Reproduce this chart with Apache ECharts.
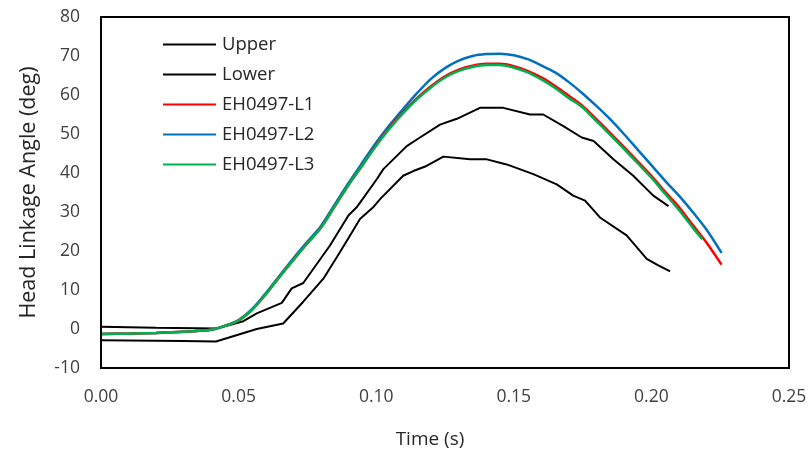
<!DOCTYPE html>
<html>
<head>
<meta charset="utf-8">
<script src="https://cdn.jsdelivr.net/npm/echarts@6/dist/echarts.min.js"></script>
<style>html,body{margin:0;padding:0;background:#fff}#c{width:811px;height:455px}</style>
</head>
<body>
<div id="c"></div>
<script>
// ---- data ----
const seriesNames = ["Upper", "Lower", "EH0497-L1", "EH0497-L2", "EH0497-L3"];
const xTicks = [0, 0.05, 0.10, 0.15, 0.20, 0.25];
const yTicks = [-10, 0, 10, 20, 30, 40, 50, 60, 70, 80];

const upperT = [0, 0.02, 0.042, 0.0517, 0.0566, 0.0657, 0.0693, 0.0735, 0.0832, 0.0899, 0.0929, 0.1002, 0.1026, 0.1111, 0.1159, 0.1232, 0.1293, 0.1377, 0.1462, 0.1559, 0.1607, 0.168, 0.1747, 0.179, 0.1862, 0.1934, 0.2007, 0.2062];
const upperY = [0.6, 0.3, 0.1, 2.0, 4.0, 6.7, 10.4, 11.8, 21.4, 29.1, 31.2, 38.4, 41.0, 46.9, 49.1, 52.4, 53.9, 56.7, 56.7, 55.0, 55.0, 52.0, 49.1, 48.2, 43.5, 39.3, 34.2, 31.5];

const lowerT = [0, 0.03, 0.0418, 0.0566, 0.0662, 0.0735, 0.0808, 0.0868, 0.0905, 0.0941, 0.0989, 0.1014, 0.1098, 0.1135, 0.1183, 0.1244, 0.1341, 0.1402, 0.1474, 0.1571, 0.1656, 0.1716, 0.1759, 0.1813, 0.191, 0.1983, 0.2025, 0.2068];
const lowerY = [-2.9, -3.1, -3.2, 0.0, 1.4, 7.0, 12.9, 19.7, 24.0, 28.2, 31.2, 33.3, 39.3, 40.5, 41.8, 44.2, 43.5, 43.5, 42.2, 39.7, 37.1, 34.2, 32.9, 28.6, 24.0, 18.0, 16.3, 14.8];

const l1T = [0, 0.01, 0.02, 0.03, 0.04, 0.045, 0.05, 0.055, 0.06, 0.065, 0.07, 0.075, 0.08, 0.085, 0.09, 0.095, 0.10, 0.105, 0.11, 0.115, 0.12, 0.125, 0.13, 0.135, 0.14, 0.145, 0.15, 0.155, 0.16, 0.165, 0.17, 0.175, 0.18, 0.185, 0.19, 0.195, 0.20, 0.205, 0.21, 0.215, 0.22, 0.2255];
const l1Y = [-1.3, -1.2, -1.0, -0.7, -0.2, 0.8, 2.2, 5.0, 9.0, 13.5, 17.8, 22.0, 26.0, 31.5, 37.0, 42.0, 47.2, 51.8, 55.8, 59.3, 62.3, 64.8, 66.5, 67.5, 68.0, 68.0, 67.4, 66.2, 64.5, 62.3, 59.8, 57.2, 53.8, 50.3, 46.7, 43.0, 39.3, 35.2, 31.3, 26.7, 22.2, 16.5];

const l2T = [0, 0.01, 0.02, 0.03, 0.04, 0.045, 0.05, 0.055, 0.06, 0.065, 0.07, 0.075, 0.08, 0.085, 0.09, 0.095, 0.10, 0.105, 0.11, 0.115, 0.12, 0.125, 0.13, 0.135, 0.14, 0.145, 0.15, 0.155, 0.16, 0.165, 0.17, 0.175, 0.18, 0.185, 0.19, 0.195, 0.20, 0.205, 0.21, 0.215, 0.22, 0.2255];
const l2Y = [-1.3, -1.2, -1.0, -0.7, -0.2, 0.8, 2.3, 5.2, 9.3, 13.8, 18.2, 22.4, 26.5, 32.0, 37.5, 42.7, 47.8, 52.4, 56.6, 60.6, 64.2, 66.9, 68.8, 70.0, 70.5, 70.6, 70.2, 69.2, 67.6, 65.8, 63.3, 60.4, 57.2, 53.8, 50.0, 46.0, 42.0, 38.0, 34.2, 30.0, 25.5, 19.5];

const l3T = [0, 0.01, 0.02, 0.03, 0.04, 0.045, 0.05, 0.055, 0.06, 0.065, 0.07, 0.075, 0.08, 0.085, 0.09, 0.095, 0.10, 0.105, 0.11, 0.115, 0.12, 0.125, 0.13, 0.135, 0.14, 0.145, 0.15, 0.155, 0.16, 0.165, 0.17, 0.175, 0.18, 0.185, 0.19, 0.195, 0.20, 0.205, 0.21, 0.215, 0.2185];
const l3Y = [-1.3, -1.2, -1.0, -0.7, -0.2, 0.8, 2.2, 5.0, 9.0, 13.5, 17.8, 22.0, 26.0, 31.5, 37.0, 42.0, 47.0, 51.5, 55.5, 59.0, 62.0, 64.5, 66.2, 67.2, 67.7, 67.7, 67.0, 65.8, 64.0, 61.8, 59.2, 56.8, 53.3, 49.8, 46.2, 42.5, 38.8, 34.6, 30.5, 26.0, 23.0];

const colors = ["#000000", "#000000", "#FF0000", "#0070C0", "#00B050"];
const widths = [2, 2, 2.5, 2.5, 2.5];

// ---- chart ----
const FONT = "'Open Sans', 'Liberation Sans', sans-serif";
const pairs = (t, y) => t.map((v, i) => [v, y[i]]);
const allData = [pairs(upperT, upperY), pairs(lowerT, lowerY), pairs(l1T, l1Y), pairs(l2T, l2Y), pairs(l3T, l3Y)];

const chart = echarts.init(document.getElementById('c'), null, {renderer: 'canvas'});
chart.setOption({
  animation: false,
  backgroundColor: '#fff',
  grid: {left: 101, right: 22, top: 17, bottom: 87},
  legend: {
    orient: 'vertical', left: 163, top: 35, padding: 0,
    itemWidth: 53, itemHeight: 20, itemGap: 11,
    icon: 'path://M0,9 L53,9 L53,11 L0,11 Z',
    textStyle: {fontFamily: FONT, fontSize: 18.5, color: '#262626', padding: [0, 0, 0, 1]},
    data: seriesNames
  },
  xAxis: {
    type: 'value', min: xTicks[0], max: xTicks[xTicks.length - 1], interval: 0.05,
    name: 'Time (s)', nameLocation: 'middle', nameGap: 62,
    nameTextStyle: {fontFamily: FONT, fontSize: 19, color: '#262626', padding: [0, 30, 0, 0]},
    axisLine: {show: false}, axisTick: {show: false}, splitLine: {show: false},
    axisLabel: {fontFamily: FONT, fontSize: 17.5, color: '#404040', margin: 20, formatter: v => v.toFixed(2)}
  },
  yAxis: {
    type: 'value', min: yTicks[0], max: yTicks[yTicks.length - 1], interval: 10,
    name: 'Head Linkage Angle (deg)', nameLocation: 'middle', nameGap: 61,
    nameTextStyle: {fontFamily: FONT, fontSize: 21.5, color: '#262626'},
    axisLine: {show: false}, axisTick: {show: false}, splitLine: {show: false},
    axisLabel: {fontFamily: FONT, fontSize: 17.5, color: '#404040', margin: 21}
  },
  series: seriesNames.map((n, i) => ({
    name: n, type: 'line', data: allData[i], showSymbol: false, symbol: 'none',
    smooth: i >= 2 ? 0.3 : false,
    lineStyle: {color: colors[i], width: widths[i]}, itemStyle: {color: colors[i]},
    z: i === 4 ? 5 : (i === 2 ? 4 : 3)
  }))
});

// plot-area frame as four thin filled bars, placed from the axis scales
const p0 = chart.convertToPixel({gridIndex: 0}, [xTicks[0], yTicks[0]]);
const p1 = chart.convertToPixel({gridIndex: 0}, [xTicks[xTicks.length - 1], yTicks[yTicks.length - 1]]);
const L = p0[0], R = p1[0], T = p1[1], B = p0[1], w = 2;
const bar = (x, y, bw, bh) => ({type: 'rect', z: 100, zlevel: 0, silent: true, shape: {x: x, y: y, width: bw, height: bh}, style: {fill: '#000000'}});
chart.setOption({
  graphic: {elements: [
    bar(L - w / 2, T - w / 2, R - L + w, w),
    bar(L - w / 2, B - w / 2, R - L + w, w),
    bar(L - w / 2, T - w / 2, w, B - T + w),
    bar(R - w / 2, T - w / 2, w, B - T + w)
  ]}
});
</script>
</body>
</html>
